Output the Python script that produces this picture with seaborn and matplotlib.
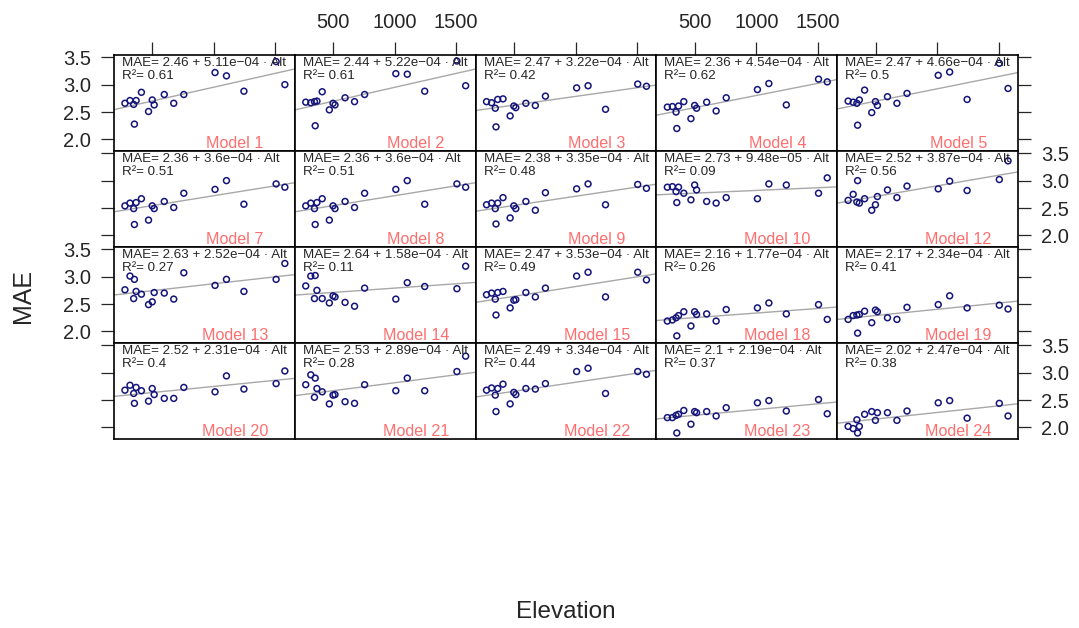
import numpy as np
import pandas as pd
import matplotlib
matplotlib.use("Agg")
import matplotlib.pyplot as plt
import seaborn as sns

sns.set_style("white")
plt.rcParams['font.family'] = ['Liberation Sans', 'DejaVu Sans']

# station elevations (same stations in every panel)
elevation = [276, 317, 347, 353, 367, 410, 468, 498, 514, 596, 673, 755, 1009, 1102, 1244, 1506, 1577]

models = ["Model 1", "Model 2", "Model 3", "Model 4", "Model 5",
          "Model 7", "Model 8", "Model 9", "Model 10", "Model 12",
          "Model 13", "Model 14", "Model 15", "Model 18", "Model 19",
          "Model 20", "Model 21", "Model 22", "Model 23", "Model 24"]

equations = ["MAE= 2.46 + 5.11e\u221204 \u00b7 Alt", "MAE= 2.44 + 5.22e\u221204 \u00b7 Alt",
             "MAE= 2.47 + 3.22e\u221204 \u00b7 Alt", "MAE= 2.36 + 4.54e\u221204 \u00b7 Alt",
             "MAE= 2.47 + 4.66e\u221204 \u00b7 Alt", "MAE= 2.36 + 3.6e\u221204 \u00b7 Alt",
             "MAE= 2.36 + 3.6e\u221204 \u00b7 Alt", "MAE= 2.38 + 3.35e\u221204 \u00b7 Alt",
             "MAE= 2.73 + 9.48e\u221205 \u00b7 Alt", "MAE= 2.52 + 3.87e\u221204 \u00b7 Alt",
             "MAE= 2.63 + 2.52e\u221204 \u00b7 Alt", "MAE= 2.64 + 1.58e\u221204 \u00b7 Alt",
             "MAE= 2.47 + 3.53e\u221204 \u00b7 Alt", "MAE= 2.16 + 1.77e\u221204 \u00b7 Alt",
             "MAE= 2.17 + 2.34e\u221204 \u00b7 Alt", "MAE= 2.52 + 2.31e\u221204 \u00b7 Alt",
             "MAE= 2.53 + 2.89e\u221204 \u00b7 Alt", "MAE= 2.49 + 3.34e\u221204 \u00b7 Alt",
             "MAE= 2.1 + 2.19e\u221204 \u00b7 Alt", "MAE= 2.02 + 2.47e\u221204 \u00b7 Alt"]

r2 = ["0.61", "0.61", "0.42", "0.62", "0.5", "0.51", "0.51", "0.48", "0.09", "0.56",
      "0.27", "0.11", "0.49", "0.26", "0.41", "0.4", "0.28", "0.44", "0.37", "0.38"]

mae = [
    [2.66, 2.71, 2.64, 2.28, 2.71, 2.86, 2.51, 2.72, 2.63, 2.82, 2.66, 2.82, 3.22, 3.16, 2.88, 3.42, 3.00],
    [2.68, 2.67, 2.69, 2.25, 2.70, 2.87, 2.54, 2.66, 2.63, 2.76, 2.69, 2.82, 3.20, 3.19, 2.88, 3.43, 2.98],
    [2.69, 2.67, 2.57, 2.23, 2.73, 2.74, 2.43, 2.61, 2.58, 2.66, 2.62, 2.79, 2.94, 2.98, 2.55, 3.01, 2.97],
    [2.59, 2.60, 2.50, 2.20, 2.61, 2.69, 2.38, 2.62, 2.57, 2.68, 2.52, 2.76, 2.91, 3.02, 2.63, 3.10, 3.05],
    [2.70, 2.68, 2.66, 2.26, 2.72, 2.90, 2.49, 2.69, 2.62, 2.78, 2.66, 2.84, 3.17, 3.23, 2.73, 3.39, 2.93],
    [2.54, 2.59, 2.49, 2.20, 2.60, 2.67, 2.28, 2.54, 2.49, 2.62, 2.51, 2.77, 2.84, 3.00, 2.57, 2.94, 2.88],
    [2.54, 2.59, 2.49, 2.20, 2.60, 2.67, 2.28, 2.54, 2.49, 2.62, 2.51, 2.77, 2.84, 3.00, 2.57, 2.94, 2.88],
    [2.56, 2.59, 2.49, 2.21, 2.59, 2.69, 2.32, 2.54, 2.49, 2.62, 2.46, 2.78, 2.85, 2.94, 2.56, 2.93, 2.86],
    [2.88, 2.89, 2.80, 2.60, 2.88, 2.77, 2.65, 2.92, 2.83, 2.62, 2.59, 2.69, 2.67, 2.94, 2.92, 2.77, 3.05],
    [2.64, 2.75, 2.61, 3.00, 2.59, 2.67, 2.46, 2.56, 2.71, 2.83, 2.69, 2.90, 2.85, 2.99, 2.82, 3.02, 3.36],
    [2.76, 3.01, 2.60, 2.95, 2.73, 2.68, 2.49, 2.54, 2.71, 2.70, 2.59, 3.07, 2.84, 2.95, 2.73, 2.95, 3.24],
    [2.83, 3.01, 2.60, 3.02, 2.75, 2.60, 2.52, 2.65, 2.63, 2.53, 2.46, 2.79, 2.59, 2.89, 2.82, 2.78, 3.19],
    [2.67, 2.70, 2.59, 2.30, 2.71, 2.73, 2.43, 2.57, 2.58, 2.71, 2.63, 2.79, 3.01, 3.08, 2.63, 3.08, 2.94],
    [2.19, 2.21, 2.25, 1.92, 2.29, 2.36, 2.10, 2.36, 2.31, 2.32, 2.19, 2.40, 2.43, 2.52, 2.32, 2.49, 2.22],
    [2.22, 2.29, 2.30, 1.97, 2.31, 2.37, 2.16, 2.39, 2.36, 2.25, 2.22, 2.44, 2.49, 2.65, 2.43, 2.48, 2.41],
    [2.68, 2.77, 2.62, 2.44, 2.73, 2.67, 2.48, 2.71, 2.60, 2.53, 2.53, 2.73, 2.65, 2.94, 2.70, 2.80, 3.03],
    [2.78, 2.96, 2.55, 2.90, 2.71, 2.65, 2.43, 2.59, 2.60, 2.47, 2.44, 2.78, 2.67, 2.90, 2.67, 3.02, 3.30],
    [2.68, 2.72, 2.59, 2.29, 2.71, 2.79, 2.43, 2.64, 2.60, 2.71, 2.70, 2.80, 3.02, 3.08, 2.62, 3.02, 2.97],
    [2.18, 2.18, 2.22, 1.90, 2.24, 2.31, 2.06, 2.29, 2.27, 2.29, 2.21, 2.36, 2.45, 2.49, 2.30, 2.51, 2.25],
    [2.02, 1.98, 2.14, 1.90, 2.02, 2.24, 2.29, 2.13, 2.27, 2.27, 2.13, 2.30, 2.45, 2.49, 2.17, 2.44, 2.21],
]

xticks = [500, 1000, 1500]
yticks = [2.0, 2.5, 3.0, 3.5]
ytick_labels = ["2.0", "2.5", "3.0", "3.5"]

fig, axes = plt.subplots(4, 5, figsize=(10.79, 6.28), dpi=100)
fig.subplots_adjust(left=114/1079, right=1018/1079, top=1-55/628, bottom=1-439/628,
                    wspace=0, hspace=0)

for i, ax in enumerate(axes.flat):
    r, c = divmod(i, 5)
    df = pd.DataFrame({"Elevation": elevation, "MAE": mae[i]})
    ax.set_xlim(187, 1658)
    ax.set_ylim(1.79, 3.54)
    sns.regplot(data=df, x="Elevation", y="MAE", ax=ax, scatter=False, ci=None,
                truncate=False, color="#a8a8a8", line_kws={"lw": 1.0})
    sns.scatterplot(data=df, x="Elevation", y="MAE", ax=ax, s=18, facecolor="none",
                    edgecolor="#14147a", linewidth=1.1, zorder=3)
    ax.set_xlim(187, 1658)
    ax.set_ylim(1.79, 3.54)
    ax.set_xlabel("")
    ax.set_ylabel("")
    for sp in ax.spines.values():
        sp.set_linewidth(1.2)
        sp.set_color("black")
    ax.text(0.044, 0.975, equations[i] + "\nR\u00b2= " + r2[i], transform=ax.transAxes,
            ha="left", va="top", fontsize=9.6, linespacing=1.1)
    ax.text(0.67, 0.035, models[i], transform=ax.transAxes, ha="center", va="baseline",
            fontsize=11.6, color="#ff6e6e")
    ax.set_xticks(xticks)
    ax.set_yticks(yticks)
    ax.set_yticklabels(ytick_labels)
    ax.tick_params(axis="x", bottom=False, labelbottom=False, top=(r == 0),
                   labeltop=(r == 0 and c % 2 == 1), direction="out", length=9.4,
                   width=0.9, pad=7, labelsize=14.5)
    ax.tick_params(axis="y", left=(c == 0), labelleft=(c == 0 and r % 2 == 0),
                   right=(c == 4), labelright=(c == 4 and r % 2 == 1),
                   direction="out", length=9.4, width=0.9, pad=7, labelsize=14.5)

fig.text(23/1079, 1-296/628, "MAE", rotation=90, ha="center", va="center", fontsize=18)
fig.text(566/1079, 1-612/628, "Elevation", ha="center", va="center", fontsize=17.5)

fig.savefig("out.png", dpi=100)
